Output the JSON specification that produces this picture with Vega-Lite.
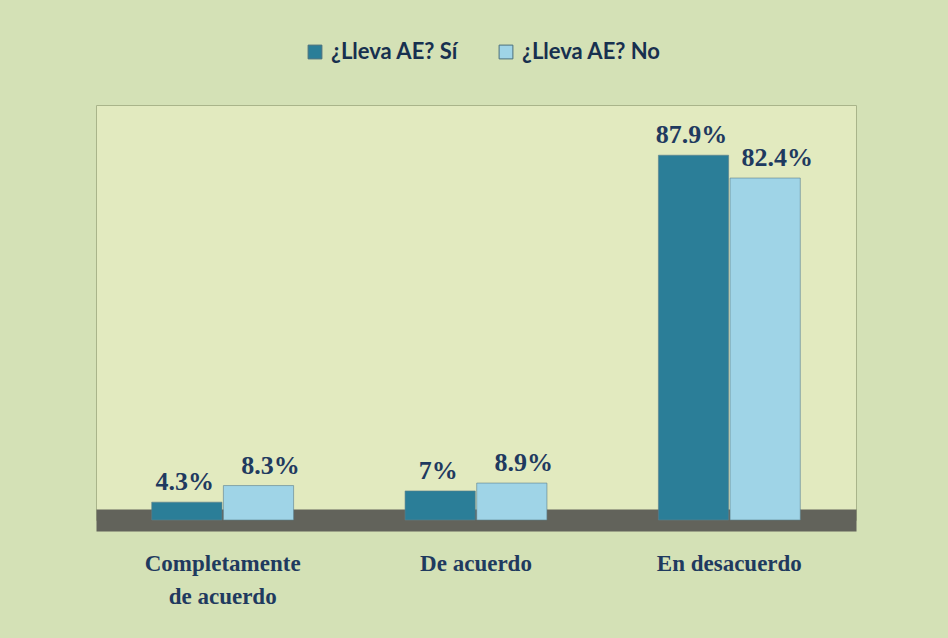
{
  "$schema": "https://vega.github.io/schema/vega-lite/v6.json",
  "width": 760,
  "height": 415,
  "autosize": {"type": "none"},
  "padding": {"left": 96, "top": 105, "right": 92, "bottom": 118},
  "background": "#d4e1b6",
  "view": {"fill": "#e2eabf", "stroke": "#a9b48a", "strokeWidth": 1},
  "data": {
    "values": [
      {"categoria": "Completamente de acuerdo", "serie": "¿Lleva AE? Sí", "valor": 4.3, "etiqueta": "4.3%"},
      {"categoria": "Completamente de acuerdo", "serie": "¿Lleva AE? No", "valor": 8.3, "etiqueta": "8.3%"},
      {"categoria": "De acuerdo", "serie": "¿Lleva AE? Sí", "valor": 7, "etiqueta": "7%"},
      {"categoria": "De acuerdo", "serie": "¿Lleva AE? No", "valor": 8.9, "etiqueta": "8.9%"},
      {"categoria": "En desacuerdo", "serie": "¿Lleva AE? Sí", "valor": 87.9, "etiqueta": "87.9%"},
      {"categoria": "En desacuerdo", "serie": "¿Lleva AE? No", "valor": 82.4, "etiqueta": "82.4%"}
    ]
  },
  "encoding": {
    "x": {
      "field": "categoria",
      "type": "nominal",
      "sort": null,
      "scale": {"paddingInner": 0.44, "paddingOuter": 0.22},
      "axis": {
        "title": null,
        "labelAngle": 0,
        "labelFont": "Liberation Serif",
        "labelFontWeight": "bold",
        "labelFontSize": 23,
        "labelColor": "#1f3a5f",
        "labelPadding": 32,
        "labelLineHeight": 33,
        "labelExpr": "datum.value == 'Completamente de acuerdo' ? ['Completamente', 'de acuerdo'] : datum.value",
        "domain": true,
        "domainColor": "#62635b",
        "domainWidth": 22,
        "ticks": false,
        "grid": false
      }
    },
    "xOffset": {"field": "serie", "type": "nominal", "sort": ["¿Lleva AE? Sí", "¿Lleva AE? No"], "scale": {"paddingInner": 0.02}},
    "y": {
      "field": "valor",
      "type": "quantitative",
      "scale": {"domain": [0, 100]},
      "axis": null
    }
  },
  "layer": [
    {
      "mark": {"type": "bar", "stroke": "#5d7f8a", "strokeWidth": 1, "strokeOpacity": 0.6},
      "encoding": {
        "color": {
          "field": "serie",
          "type": "nominal",
          "sort": ["¿Lleva AE? Sí", "¿Lleva AE? No"],
          "scale": {"domain": ["¿Lleva AE? Sí", "¿Lleva AE? No"], "range": ["#2b7e98", "#9fd4e7"]},
          "legend": {
            "title": null,
            "orient": "none",
            "direction": "horizontal",
            "legendX": 208,
            "legendY": -64,
            "symbolType": "square",
            "symbolSize": 190,
            "symbolStrokeColor": "#4a6f7d",
            "symbolStrokeWidth": 1,
            "labelFont": "Lato",
            "labelFontWeight": "bold",
            "labelFontSize": 22,
            "labelColor": "#17304f",
            "columnPadding": 36,
            "labelOffset": 5,
            "labelLimit": 300
          }
        }
      }
    },
    {
      "transform": [{"filter": "datum.serie == '¿Lleva AE? Sí'"}],
      "mark": {"type": "text", "dy": -20, "dx": -2, "font": "Liberation Serif", "fontWeight": "bold", "fontSize": 26, "color": "#1f3a5f"},
      "encoding": {"text": {"field": "etiqueta"}}
    },
    {
      "transform": [{"filter": "datum.serie == '¿Lleva AE? No'"}],
      "mark": {"type": "text", "dy": -20, "dx": 12, "font": "Liberation Serif", "fontWeight": "bold", "fontSize": 26, "color": "#1f3a5f"},
      "encoding": {"text": {"field": "etiqueta"}}
    }
  ]
}
